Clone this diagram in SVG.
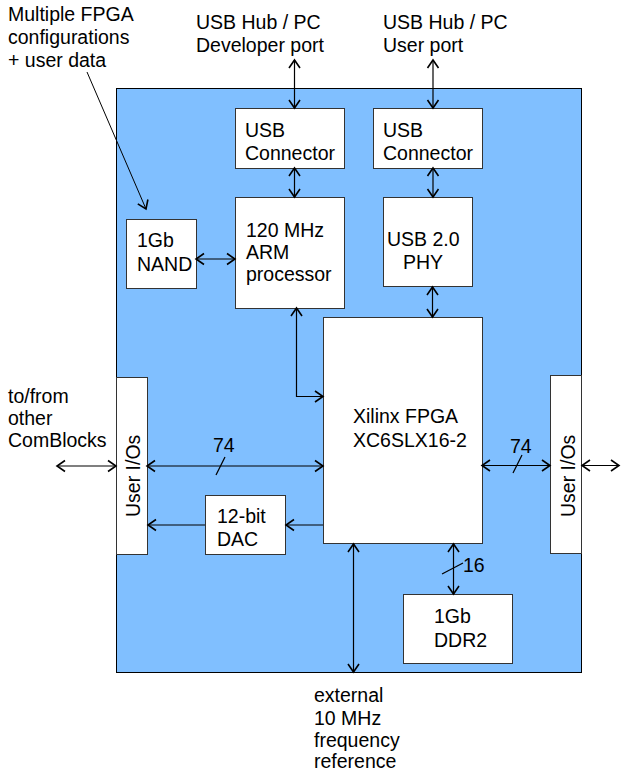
<svg xmlns="http://www.w3.org/2000/svg" width="621" height="772" viewBox="0 0 621 772">
<style>
text{font-family:"Liberation Sans",Arial,sans-serif;font-size:19.5px;fill:#000}
.box{fill:#fff;stroke:#333;stroke-width:1}
.c{fill:none;stroke:#000;stroke-width:1.2}
.ah{fill:none;stroke:#000;stroke-width:1.6}
</style>
<defs>
<marker id="a" markerUnits="userSpaceOnUse" viewBox="-10 -8 12 16" refX="0" refY="0" markerWidth="12" markerHeight="16" orient="auto-start-reverse">
<path class="ah" d="M-8,-5.5 L0,0 L-8,5.5"/>
</marker>
</defs>
<rect id="board" x="116.5" y="88.5" width="465" height="584" fill="#80bfff" stroke="#000" stroke-width="1"/>
<g id="labels">
<text x="8" y="21">Multiple FPGA</text>
<text x="8" y="44">configurations</text>
<text x="8" y="67">+ user data</text>
<text x="196" y="29">USB Hub / PC</text>
<text x="196" y="52">Developer port</text>
<text x="383" y="29">USB Hub / PC</text>
<text x="383" y="52">User port</text>
<text x="8" y="403">to/from</text>
<text x="8" y="425">other</text>
<text x="8" y="447">ComBlocks</text>
<text x="314" y="702">external</text>
<text x="314" y="725">10 MHz</text>
<text x="314" y="747">frequency</text>
<text x="314" y="768">reference</text>
</g>
<g id="usbconn1"><rect class="box" x="235.5" y="108.5" width="109" height="60"/><text x="245" y="137">USB</text><text x="245" y="160">Connector</text></g>
<g id="usbconn2"><rect class="box" x="373.5" y="108.5" width="109" height="60"/><text x="383" y="137">USB</text><text x="383" y="160">Connector</text></g>
<g id="nand"><rect class="box" x="126.5" y="219.5" width="70" height="69"/><text x="137" y="247">1Gb</text><text x="137" y="271">NAND</text></g>
<g id="arm"><rect class="box" x="235.5" y="197.5" width="109" height="111"/><text x="246" y="237">120 MHz</text><text x="246" y="259">ARM</text><text x="246" y="281">processor</text></g>
<g id="phy"><rect class="box" x="383.5" y="197.5" width="89" height="89"/><text x="387" y="246">USB 2.0</text><text x="403" y="269">PHY</text></g>
<g id="fpga"><rect class="box" x="323.5" y="317.5" width="159" height="226"/><text x="353" y="423">Xilinx FPGA</text><text x="353" y="447">XC6SLX16-2</text></g>
<g id="uio-left"><rect class="box" x="116.5" y="377.5" width="31" height="177"/><text transform="translate(140,517) rotate(-90)">User I/Os</text></g>
<g id="uio-right"><rect class="box" x="550.5" y="375.5" width="31" height="178"/><text transform="translate(575,517) rotate(-90)">User I/Os</text></g>
<g id="dac"><rect class="box" x="205.5" y="495.5" width="80" height="59"/><text x="217" y="523">12-bit</text><text x="217" y="546">DAC</text></g>
<g id="ddr"><rect class="box" x="403.5" y="594.5" width="109" height="69"/><text x="434" y="623">1Gb</text><text x="434" y="647">DDR2</text></g>
<g id="connectors">
<line class="c" x1="294.5" y1="60" x2="294.5" y2="108" marker-start="url(#a)" marker-end="url(#a)"/>
<line class="c" x1="433" y1="60" x2="433" y2="108" marker-start="url(#a)" marker-end="url(#a)"/>
<line class="c" x1="294.5" y1="168" x2="294.5" y2="197" marker-start="url(#a)" marker-end="url(#a)"/>
<line class="c" x1="433" y1="168" x2="433" y2="197" marker-start="url(#a)" marker-end="url(#a)"/>
<line class="c" x1="432.5" y1="287" x2="432.5" y2="317" marker-start="url(#a)" marker-end="url(#a)"/>
<line class="c" x1="196" y1="259" x2="235" y2="259" marker-start="url(#a)" marker-end="url(#a)"/>
<line x1="87" y1="72" x2="146" y2="209" stroke="#000" stroke-width="1" marker-end="url(#a)"/>
<polyline class="c" points="296.5,308 296.5,396.5 323,396.5" marker-start="url(#a)" marker-end="url(#a)"/>
<line class="c" x1="57" y1="466" x2="116" y2="466" marker-start="url(#a)" marker-end="url(#a)"/>
<line class="c" x1="147" y1="466" x2="323" y2="466" marker-start="url(#a)" marker-end="url(#a)"/>
<line class="c" x1="216" y1="475" x2="225" y2="457"/>
<text x="213" y="452">74</text>
<line class="c" x1="482" y1="465.5" x2="550" y2="465.5" marker-start="url(#a)" marker-end="url(#a)"/>
<line class="c" x1="513" y1="473" x2="522" y2="455"/>
<text x="510" y="453">74</text>
<line class="c" x1="582" y1="465.5" x2="619" y2="465.5" marker-start="url(#a)" marker-end="url(#a)"/>
<line class="c" x1="323" y1="525" x2="286" y2="525" marker-end="url(#a)"/>
<line class="c" x1="205" y1="525" x2="148" y2="525" marker-end="url(#a)"/>
<line class="c" x1="353.5" y1="544" x2="353.5" y2="672" marker-start="url(#a)" marker-end="url(#a)"/>
<line class="c" x1="453.5" y1="544" x2="453.5" y2="594" marker-start="url(#a)" marker-end="url(#a)"/>
<line class="c" x1="442" y1="574" x2="463" y2="563"/>
<text x="463" y="572">16</text>
</g>
</svg>
